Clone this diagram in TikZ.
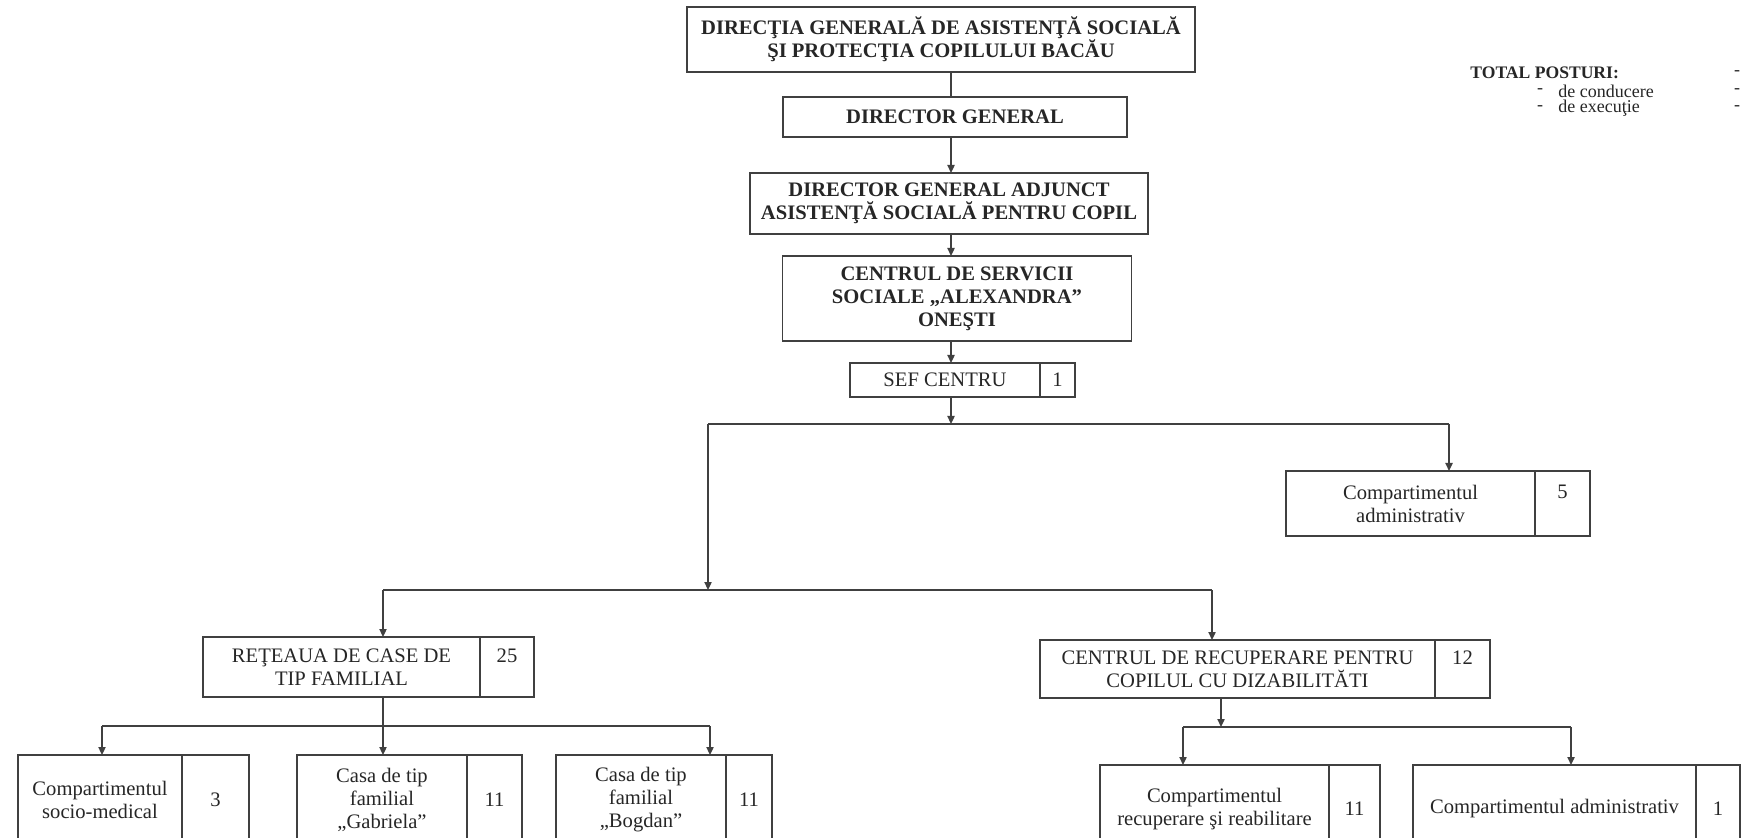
\documentclass[tikz,border=0pt]{standalone}
\usepackage{fontspec}
\setmainfont{Liberation Serif}
\usetikzlibrary{positioning,arrows.meta}

\tikzset{
  box/.style={draw=black!75, line width=0.8pt, inner sep=1pt, outer sep=0pt,
    align=center, text=black!85, font=\fontsize{10.3}{11.5}\selectfont},
  head/.style={box, font=\bfseries\fontsize{10.3}{11.5}\selectfont},
  note/.style={inner sep=0pt, text=black!85, font=\fontsize{9}{9}\selectfont},
  link/.style={draw=black!75, line width=0.8pt},
  arr/.style={link, -{Triangle[length=4pt,width=3.6pt]}},
}

\begin{document}
\begin{tikzpicture}[x=0.5pt, y=-0.5pt]
  \useasboundingbox (0,0) rectangle (1743,838);
  \clip (0,0) rectangle (1743,838);

  % Nodes
  \node[head, minimum width=254pt, minimum height=32.5pt] (dgaspc) at (941,39.5)
    {DIRECŢIA GENERALĂ DE ASISTENŢĂ SOCIALĂ\\ŞI PROTECŢIA COPILULUI BACĂU};
  \node[head, minimum width=172pt, minimum height=20pt] (dg) at (955,117) {DIRECTOR GENERAL};
  \node[head, minimum width=199pt, minimum height=30.5pt] (dga) at (949,203.5)
    {DIRECTOR GENERAL ADJUNCT\\ASISTENŢĂ SOCIALĂ PENTRU COPIL};
  \node[head, minimum width=174.5pt, minimum height=42.5pt] (csv) at (957,298.5)
    {CENTRUL DE SERVICII\\SOCIALE „ALEXANDRA”\\ONEŞTI};

  \node[box, minimum width=95pt, minimum height=17pt] (sef) at (945,380) {SEF CENTRU};
  \node[box, minimum width=17.5pt, minimum height=17pt, right=0pt of sef] (sefn) {1};

  \node[box, minimum width=124.5pt, minimum height=32.5pt] (adm) at (1410.5,503.5)
    {Compartimentul\\administrativ};
  \node[box, minimum width=27.5pt, minimum height=32.5pt, right=0pt of adm] (admn) {5\\\phantom{5}};

  \node[box, minimum width=138.5pt, minimum height=30pt] (ret) at (341.5,667)
    {REŢEAUA DE CASE DE\\TIP FAMILIAL};
  \node[box, minimum width=27pt, minimum height=30pt, right=0pt of ret] (retn) {25\\\phantom{2}};

  \node[box, minimum width=197.5pt, minimum height=29pt] (cr) at (1237.5,669)
    {CENTRUL DE RECUPERARE PENTRU\\COPILUL CU DIZABILITĂTI};
  \node[box, minimum width=27.5pt, minimum height=29pt, right=0pt of cr] (crn) {12\\\phantom{1}};

  \node[box, minimum width=82pt, minimum height=45pt] (soc) at (100,800)
    {Compartimentul\\socio-medical};
  \node[box, minimum width=33.5pt, minimum height=45pt, right=0pt of soc] (socn) {3};
  \node[box, minimum width=85pt, minimum height=45pt] (gab) at (382,800)
    {Casa de tip\\familial\\„Gabriela”};
  \node[box, minimum width=27.5pt, minimum height=45pt, right=0pt of gab] (gabn) {11};
  \node[box, minimum width=85pt, minimum height=45pt] (bog) at (641,800)
    {Casa de tip\\familial\\„Bogdan”};
  \node[box, minimum width=23pt, minimum height=45pt, right=0pt of bog] (bogn) {11};

  \node[box, minimum width=114.5pt, minimum height=44pt] (rec) at (1214.5,809)
    {Compartimentul\\recuperare şi reabilitare};
  \node[box, minimum width=25.5pt, minimum height=44pt, right=0pt of rec] (recn) {11};
  \node[box, minimum width=141.5pt, minimum height=44pt] (adm2) at (1554.5,809)
    {Compartimentul administrativ};
  \node[box, minimum width=22pt, minimum height=44pt, right=0pt of adm2] (adm2n) {1};

  % Totals
  \node[note, font=\bfseries\fontsize{8.8}{9}\selectfont, anchor=west] (tot) at (1470,73) {TOTAL POSTURI:};
  \node[note] (totd) at (1737,73) {-};
  \node[note] (cond1) at (1540,91) {-};
  \node[note, anchor=west] (cond) at (1558,91) {de conducere};
  \node[note] (cond2) at (1737,91) {-};
  \node[note] (exe1) at (1540,108) {-};
  \node[note, anchor=west] (exe) at (1558,108) {de execuţie};
  \node[note] (exe2) at (1737,108) {-};

  % Joints
  \coordinate (s1) at (708,424);
  \coordinate (s2) at (708,590);
  \coordinate (r1) at (383,590);
  \coordinate (r2) at (1212,590);
  \coordinate (q1) at (102,726);
  \coordinate (q2) at (710,726);
  \coordinate (c0) at (1221,727);
  \coordinate (c1) at (1183,727);
  \coordinate (c2) at (1571,727);

  % Links
  \draw[link] (dg.north -| 951,0) -- (dgaspc.south -| 951,0);
  \draw[arr] (dg.south -| 951,0) -- (dga.north -| 951,0);
  \draw[arr] (dga.south -| 951,0) -- (csv.north -| 951,0);
  \draw[arr] (csv.south -| 951,0) -- (sef.north -| 951,0);
  \draw[arr] (sef.south -| 951,0) -- (s1 -| 951,0);
  \draw[link] (s1) -- (s1 -| 1449,0);
  \draw[arr] (s1 -| 1449,0) -- (adm.north -| 1449,0);
  \draw[arr] (s1) -- (s2);
  \draw[link] (r1) -- (r2);
  \draw[arr] (r1) -- (r1 |- ret.north);
  \draw[arr] (r2) -- (r2 |- cr.north);

  \draw[arr] (r1 |- ret.south) -- (r1 |- gab.north);
  \draw[link] (q1) -- (q2);
  \draw[arr] (q1) -- (q1 |- soc.north);
  \draw[arr] (q2) -- (q2 |- bog.north);

  \draw[arr] (c0 |- cr.south) -- (c0);
  \draw[link] (c1) -- (c2);
  \draw[arr] (c1) -- (c1 |- rec.north);
  \draw[arr] (c2) -- (c2 |- adm2.north);
\end{tikzpicture}
\end{document}
